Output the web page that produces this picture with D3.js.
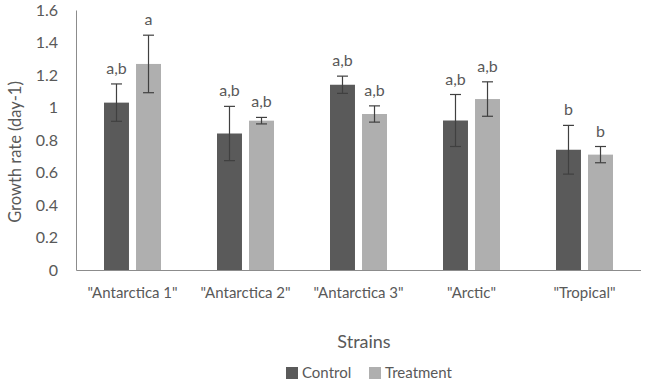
<!DOCTYPE html>
<html><head><meta charset="utf-8">
<script src="https://cdn.jsdelivr.net/npm/d3@7"></script>
<style>body{margin:0;background:#fff}svg{display:block}text{font-family:Lato,"Open Sans",sans-serif;fill:#595959}</style>
</head><body><svg id="c" width="645" height="384"></svg>
<script>
const categories = ['"Antarctica 1"', '"Antarctica 2"', '"Antarctica 3"', '"Arctic"', '"Tropical"'];
const seriesNames = ["Control", "Treatment"];
const controlValues = [1.03, 0.84, 1.14, 0.92, 0.74];
const controlErrors = [0.115, 0.167, 0.053, 0.16, 0.15];
const controlLetters = ["a,b", "a,b", "a,b", "a,b", "b"];
const treatmentValues = [1.268, 0.919, 0.96, 1.052, 0.71];
const treatmentErrors = [0.177, 0.02, 0.05, 0.106, 0.05];
const treatmentLetters = ["a", "a,b", "a,b", "a,b", "b"];
const yTicks = [0, 0.2, 0.4, 0.6, 0.8, 1, 1.2, 1.4, 1.6];
const colors = ["#5a5a5a", "#afafaf"];

const svg = d3.select("#c");
const x0 = d3.scaleBand().domain(categories).range([76, 641]).paddingInner(0).paddingOuter(0);
const x1 = d3.scaleBand().domain(seriesNames).range([28, 85]).paddingInner(0.22);
const y = d3.scaleLinear().domain([0, 1.6]).range([270, 10]);

// y axis
const yAxis = svg.append("g").attr("transform", "translate(76,0)")
  .call(d3.axisLeft(y).tickValues(yTicks).tickFormat(d => d3.format("")(+d.toFixed(1))).tickSize(0).tickPadding(18));
yAxis.select(".domain").attr("stroke", "#8c8c8c");
yAxis.selectAll("text").style("font-size", "16px").attr("fill", "#595959");

const series = [
  {name: "Control", vals: controlValues, errs: controlErrors, letters: controlLetters},
  {name: "Treatment", vals: treatmentValues, errs: treatmentErrors, letters: treatmentLetters}
];

series.forEach((s, si) => {
  const g = svg.append("g");
  const data = categories.map((c, i) => ({c, v: s.vals[i], e: s.errs[i], l: s.letters[i]}));
  g.selectAll("rect").data(data).join("rect")
    .attr("x", d => x0(d.c) + x1(s.name))
    .attr("y", d => y(d.v))
    .attr("width", x1.bandwidth())
    .attr("height", d => y(0) - y(d.v))
    .attr("fill", colors[si]);
  const cx = d => x0(d.c) + x1(s.name) + x1.bandwidth() / 2;
  g.selectAll("line.v").data(data).join("line").attr("class", "v")
    .attr("x1", cx).attr("x2", cx)
    .attr("y1", d => y(d.v + d.e)).attr("y2", d => y(d.v - d.e))
    .attr("stroke", "#404040").attr("stroke-width", 1.2);
  ["+", "-"].forEach(sign => {
    g.selectAll("line.c" + (sign === "+" ? "t" : "b")).data(data).join("line").attr("class", "c" + (sign === "+" ? "t" : "b"))
      .attr("x1", d => cx(d) - 5.5).attr("x2", d => cx(d) + 5.5)
      .attr("y1", d => y(sign === "+" ? d.v + d.e : d.v - d.e))
      .attr("y2", d => y(sign === "+" ? d.v + d.e : d.v - d.e))
      .attr("stroke", "#404040").attr("stroke-width", 1.2);
  });
  g.selectAll("text").data(data).join("text")
    .attr("x", cx).attr("y", d => y(d.v + d.e) - 10)
    .attr("text-anchor", "middle").style("font-size", "16px")
    .text(d => d.l);
});

// x axis
const xAxis = svg.append("g").attr("transform", "translate(0,270)")
  .call(d3.axisBottom(x0).tickSize(0).tickPadding(17));
xAxis.select(".domain").attr("stroke", "#8c8c8c").attr("d", "M76.5,0.5H641");
xAxis.selectAll("text").style("font-size", "15px").attr("fill", "#333");

// titles
svg.append("text").attr("transform", "translate(21,152) rotate(-90)").attr("text-anchor", "middle")
  .style("font-size", "16.5px").attr("fill", "#333").text("Growth rate (day-1)");
svg.append("text").attr("x", 364).attr("y", 348).attr("text-anchor", "middle")
  .style("font-size", "18px").attr("fill", "#333").text("Strains");

// legend
const leg = svg.append("g");
const legX = [286, 369];
seriesNames.forEach((n, i) => {
  leg.append("rect").attr("x", legX[i]).attr("y", 367).attr("width", 12).attr("height", 12).attr("fill", colors[i]);
  leg.append("text").attr("x", legX[i] + 16).attr("y", 378).style("font-size", "15px").attr("fill", "#333").text(n);
});
</script></body></html>
